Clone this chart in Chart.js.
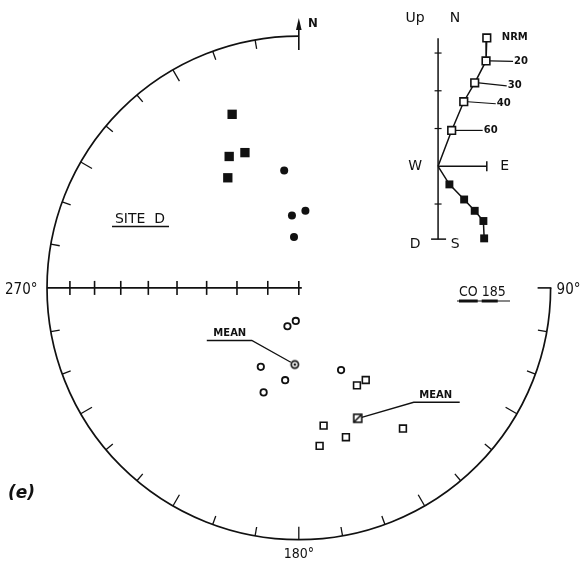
<!DOCTYPE html>
<html>
<head>
<meta charset="utf-8">
<script src="https://cdn.jsdelivr.net/npm/chart.js@4.4.1/dist/chart.umd.min.js"></script>
<style>
  html, body { margin: 0; padding: 0; background: #fff; }
  canvas { display: block; }
</style>
</head>
<body>
<canvas id="stereo" width="582" height="568"></canvas>
<script>
// layout of the net on the page (px)
const CX = 299, CY = 288, R = 258;       // stereonet centre / radius
const ZX = 441.7, ZY = 163.3, ZU = 38.7; // inset origin / one tick

// SITE D  - lower hemisphere (solid symbols)
const sqDownDec = [339.0, 332.1, 338.3, 327.2];
const sqDownInc = [27.0, 40.6, 41.7, 46.8];
const ciDownDec = [352.9, 4.9, 354.6, 354.6];
const ciDownInc = [51.2, 64.9, 66.4, 73.5];

// CO 185 - upper hemisphere (open symbols)
const ciUpDec = [196.5, 185.2, 205.7, 188.4, 198.6, 152.8];
const ciUpInc = [-77.1, -79.3, -61.5, -59.6, -53.9, -59.9];
const sqUpDec = [144.0, 149.2, 169.8, 162.5, 172.5, 143.5];
const sqUpInc = [-52.7, -52.8, -43.7, -37.8, -36.8, -31.1];

// site means (circle group, square group)
const meanDec = [183.0, 155.7];
const meanInc = [-65.1, -42.6];

// inset: demagnetisation steps (mT)
const steps = ['NRM', '20', '30', '40', '60', ''];
const horE = [1.29, 1.27, 0.97, 0.68, 0.36, 0];
const horN = [3.40, 2.79, 2.21, 1.71, 0.95, 0];
const verE = [1.22, 1.20, 0.97, 0.69, 0.30, 0];
const verD = [1.91, 1.45, 1.18, 0.88, 0.48, 0];

// tick marks
const rimTicks = [100, 110, 120, 130, 140, 150, 160, 170, 180, 190, 200, 210, 220,
                  230, 240, 250, 260, 280, 290, 300, 310, 320, 330, 340, 350];
const incTicks = [10, 20, 30, 40, 50, 60, 70, 80, 90];
const zijTicks = [3, 2, 1, -1];

const NARROW = '"DejaVu Sans Condensed", "Liberation Sans Narrow", sans-serif';
const SANS = '"DejaVu Sans", sans-serif';

// equal-area (Schmidt) projection
function project(dec, inc) {
  const r = Math.SQRT2 * Math.sin((90 - Math.abs(inc)) / 2 * Math.PI / 180);
  const d = dec * Math.PI / 180;
  return { x: r * Math.sin(d), y: r * Math.cos(d) };
}
const pts = (decs, incs) => decs.map((d, i) => project(d, incs[i]));

// special symbols for the means
function meanCircle() {
  const c = document.createElement('canvas');
  c.width = c.height = 12;
  const g = c.getContext('2d');
  g.lineWidth = 1.7;
  g.strokeStyle = g.fillStyle = '#111';
  g.beginPath(); g.arc(6, 6, 3.6, 0, 2 * Math.PI); g.stroke();
  g.beginPath(); g.arc(6, 6, 1.3, 0, 2 * Math.PI); g.fill();
  return c;
}
function meanSquare() {
  const c = document.createElement('canvas');
  c.width = c.height = 12;
  const g = c.getContext('2d');
  g.lineWidth = 1.6;
  g.strokeStyle = '#111';
  g.fillStyle = '#fff';
  g.fillRect(2, 2, 8, 8);
  g.strokeRect(2, 2, 8, 8);
  g.beginPath(); g.moveTo(2, 10); g.lineTo(10, 2); g.stroke();
  return c;
}

function text(ctx, s, x, y, font, align) {
  ctx.font = font;
  ctx.textAlign = align || 'center';
  ctx.textBaseline = 'middle';
  ctx.fillText(s, x, y);
}
function line(ctx, x1, y1, x2, y2) {
  ctx.beginPath(); ctx.moveTo(x1, y1); ctx.lineTo(x2, y2); ctx.stroke();
}

const frame = {
  id: 'frame',
  beforeDatasetsDraw(chart) {
    const { ctx, scales: { x, y, zx, zy } } = chart;
    const cx = x.getPixelForValue(0), cy = y.getPixelForValue(0);
    const rad = x.getPixelForValue(1) - cx;
    ctx.save();
    ctx.strokeStyle = '#111';
    ctx.fillStyle = '#111';

    // primitive circle, 90 -> 180 -> 270 -> N
    ctx.lineWidth = 1.7;
    ctx.beginPath(); ctx.arc(cx, cy, rad, 0, 1.5 * Math.PI); ctx.stroke();
    ctx.lineWidth = 1.3;
    rimTicks.forEach(d => {
      const a = (d - 90) * Math.PI / 180;
      const len = d % 30 === 0 ? 13 : 9;
      line(ctx, cx + Math.cos(a) * rad, cy + Math.sin(a) * rad,
                cx + Math.cos(a) * (rad - len), cy + Math.sin(a) * (rad - len));
    });
    // 90 bracket
    ctx.lineWidth = 1.6;
    line(ctx, cx + rad + 0.8, cy, cx + rad - 13, cy);
    // north arrow
    line(ctx, cx, cy - rad + 14, cx, cy - rad - 10);
    ctx.beginPath();
    ctx.moveTo(cx, cy - rad - 18);
    ctx.lineTo(cx - 2.8, cy - rad - 6);
    ctx.lineTo(cx + 2.8, cy - rad - 6);
    ctx.closePath(); ctx.fill();
    text(ctx, 'N', cx + 14, cy - rad - 12, 'bold 13px ' + NARROW);

    // W-E axis with equal-area inclination ticks
    line(ctx, cx - rad, cy, cx + 3, cy);
    incTicks.forEach(i => {
      const p = x.getPixelForValue(project(270, i).x);
      line(ctx, p, cy - 7, p, cy + 7);
    });

    // angle labels
    text(ctx, '270°', 5, cy + 2, '15px ' + NARROW, 'left');
    text(ctx, '90°', cx + rad + 6, cy + 2, '15px ' + NARROW, 'left');
    text(ctx, '180°', cx, cy + rad + 15, '14px ' + NARROW);
    text(ctx, '(e)', 8, 494, 'italic bold 17px ' + SANS, 'left');

    // site labels
    text(ctx, 'SITE  D', 140, 219, '14px ' + SANS);
    ctx.lineWidth = 1.6;
    line(ctx, 112, 226.5, 169, 226.5);
    const cf = '14px ' + NARROW;
    text(ctx, 'CO 185', 459, 292, cf, 'left');
    const wCO = ctx.measureText('CO').width;
    const wSp = ctx.measureText('CO ').width;
    const w18 = ctx.measureText('CO 18').width;
    ctx.lineWidth = 1.1;
    line(ctx, 457, 301, 510, 301);
    ctx.lineWidth = 3;
    line(ctx, 459, 301, 459 + wCO, 301);
    line(ctx, 459 + wSp, 301, 459 + w18, 301);

    // MEAN leaders
    const m1 = project(meanDec[0], meanInc[0]);
    const m2 = project(meanDec[1], meanInc[1]);
    const p1 = { x: x.getPixelForValue(m1.x), y: y.getPixelForValue(m1.y) };
    const p2 = { x: x.getPixelForValue(m2.x), y: y.getPixelForValue(m2.y) };
    ctx.lineWidth = 1.3;
    ctx.beginPath();
    ctx.moveTo(p1.x - 4, p1.y - 2.3);
    ctx.lineTo(p1.x - 43, p1.y - 24);
    ctx.lineTo(p1.x - 88, p1.y - 24);
    ctx.stroke();
    text(ctx, 'MEAN', p1.x - 65, p1.y - 31, 'bold 10px ' + SANS);
    ctx.beginPath();
    ctx.moveTo(p2.x + 4, p2.y - 1);
    ctx.lineTo(p2.x + 56, p2.y - 16);
    ctx.lineTo(p2.x + 102, p2.y - 16);
    ctx.stroke();
    text(ctx, 'MEAN', p2.x + 78, p2.y - 23, 'bold 10px ' + SANS);

    // inset axes
    const ox = zx.getPixelForValue(0), oy = zy.getPixelForValue(0);
    const ex = zx.getPixelForValue(1.29), by = zy.getPixelForValue(-1.93);
    ctx.lineWidth = 1.5;
    line(ctx, ox, zy.getPixelForValue(3.39), ox, by);
    line(ctx, ox - 7, by, ox + 8, by);
    line(ctx, ox, oy, ex, oy);
    line(ctx, ex, oy - 5, ex, oy + 5);
    ctx.lineWidth = 1.2;
    zijTicks.forEach(t => {
      const ty = zy.getPixelForValue(t);
      line(ctx, ox - 3.5, ty, ox + 3.5, ty);
    });
    const lf = '14px ' + SANS;
    text(ctx, 'Up', ox - 23, 18, lf);
    text(ctx, 'N', ox + 17, 18, lf);
    text(ctx, 'W', ox - 23, oy, lf);
    text(ctx, 'E', ex + 18, oy, lf);
    text(ctx, 'D', ox - 23, 244, lf);
    text(ctx, 'S', ox + 17, 244, lf);

    // step labels
    const sf = 'bold 10px ' + SANS;
    const gaps = [15, 27, 32, 32, 31];
    const drops = [0, 0.5, 3, 2, 0];
    steps.forEach((s, i) => {
      if (!s) return;
      const px = zx.getPixelForValue(horE[i]), py = zy.getPixelForValue(horN[i]);
      ctx.lineWidth = 1.2;
      if (i > 0) line(ctx, px + 4, py, px + gaps[i], py + drops[i]);
      text(ctx, s, px + gaps[i] + (i === 0 ? 0 : 1), py + drops[i] - (i === 0 ? 1 : 0), sf, 'left');
    });
    ctx.restore();
  }
};

const hor = horE.map((e, i) => ({ x: e, y: horN[i] }));
const ver = verE.map((e, i) => ({ x: e, y: -verD[i] }));
const endRadius = (r) => steps.map(s => s ? r : 0);

const datasets = [
  { data: pts(sqDownDec, sqDownInc), pointStyle: 'rect', pointRadius: 6.6,
    backgroundColor: '#111', borderWidth: 0 },
  { data: pts(ciDownDec, ciDownInc), pointStyle: 'circle', pointRadius: 4,
    backgroundColor: '#111', borderWidth: 0 },
  { data: pts(ciUpDec, ciUpInc), pointStyle: 'circle', pointRadius: 3.2,
    backgroundColor: '#fff', borderColor: '#111', borderWidth: 1.8 },
  { data: pts(sqUpDec, sqUpInc), pointStyle: 'rect', pointRadius: 4.8,
    backgroundColor: '#fff', borderColor: '#111', borderWidth: 1.6 },
  { data: pts(meanDec, meanInc), pointStyle: [meanCircle(), meanSquare()], pointRadius: 6 },
  { data: hor, xAxisID: 'zx', yAxisID: 'zy', showLine: true, borderColor: '#111',
    borderWidth: 1.5, pointStyle: 'rect', pointRadius: endRadius(5.4),
    backgroundColor: '#fff', pointBorderColor: '#111', pointBorderWidth: 1.6 },
  { data: ver, xAxisID: 'zx', yAxisID: 'zy', showLine: true, borderColor: '#111',
    borderWidth: 1.5, pointStyle: 'rect', pointRadius: endRadius(5.6),
    backgroundColor: '#111', pointBorderWidth: 0 }
];

new Chart(document.getElementById('stereo'), {
  type: 'scatter',
  data: { datasets: datasets },
  options: {
    responsive: false,
    animation: false,
    events: [],
    layout: { padding: 0 },
    plugins: { legend: { display: false }, tooltip: { enabled: false } },
    scales: {
      x: { type: 'linear', display: false, min: -CX / R, max: (582 - CX) / R },
      y: { type: 'linear', display: false, min: -(568 - CY) / R, max: CY / R },
      zx: { type: 'linear', axis: 'x', display: false, min: -ZX / ZU, max: (582 - ZX) / ZU },
      zy: { type: 'linear', axis: 'y', display: false, min: -(568 - ZY) / ZU, max: ZY / ZU }
    }
  },
  plugins: [frame]
});
</script>
</body>
</html>
